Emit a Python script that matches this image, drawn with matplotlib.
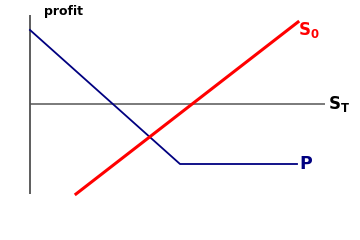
import matplotlib
matplotlib.use("Agg")
import matplotlib.pyplot as plt

plt.rcParams['mathtext.fontset'] = 'dejavusans'

# Payoff diagram values (x = underlying price S_T, y = profit)
put_x = [0, 150, 267]
put_y = [74, -60, -60]
stock_x = [46, 268]
stock_y = [-90, 82]
axis_x = [0, 295]
axis_y = [-90, 89]

fig = plt.figure(figsize=(3.6, 2.4), dpi=100)
ax = fig.add_axes([0, 0, 1, 1])
ax.set_xlim(-30, 330)
ax.set_ylim(-136, 104)
ax.axis('off')

ax.plot(axis_x, [0, 0], color='#707070', lw=1.3, solid_capstyle='butt')
ax.plot([0, 0], axis_y, color='#505050', lw=1.3, solid_capstyle='butt')
ax.plot(put_x, put_y, color='#000080', lw=1.3)
ax.plot(stock_x, stock_y, color='#ff0000', lw=2.2)

ax.text(14, 93, 'profit', fontsize=9, fontweight='bold', color='black', va='center', ha='left')
ax.text(268, 74, r'$\mathbf{S_0}$', fontsize=12, color='#ff0000', va='center', ha='left')
ax.text(298, 0, r'$\mathbf{S_T}$', fontsize=12, color='black', va='center', ha='left')
ax.text(269, -60, 'P', fontsize=12.5, fontweight='bold', color='#000080', va='center', ha='left')

fig.savefig('out.png', dpi=100)
